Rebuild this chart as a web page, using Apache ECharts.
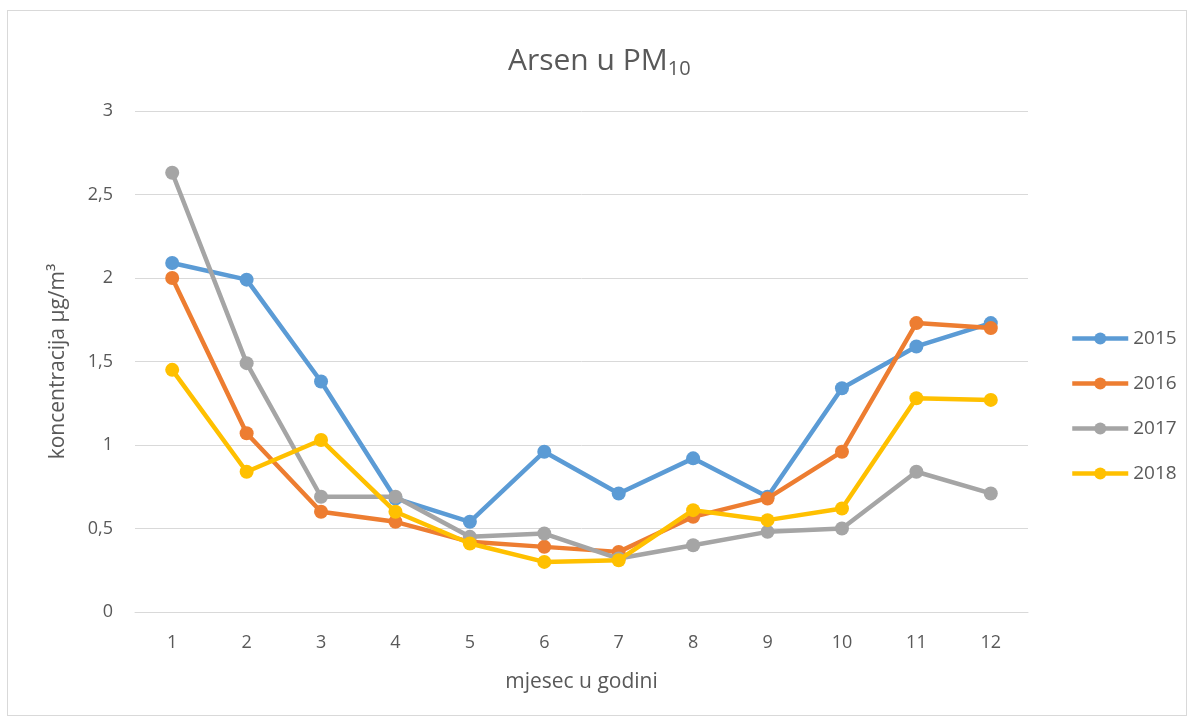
<!DOCTYPE html>
<html>
<head>
<meta charset="utf-8">
<script src="https://cdn.jsdelivr.net/npm/echarts@6/dist/echarts.min.js"></script>
<style>
html, body { margin: 0; padding: 0; background: #fff; }
#main { position: absolute; left: 7px; top: 10px; width: 1180px; height: 706px; border: 1px solid #d9d9d9; box-sizing: border-box; }
</style>
</head>
<body>
<div id="main"></div>
<script>
var months = ['1', '2', '3', '4', '5', '6', '7', '8', '9', '10', '11', '12'];
var yearNames = ['2015', '2016', '2017', '2018'];
var data2015 = [2.09, 1.99, 1.38, 0.68, 0.54, 0.96, 0.71, 0.92, 0.69, 1.34, 1.59, 1.73];
var data2016 = [2.00, 1.07, 0.60, 0.54, 0.42, 0.39, 0.36, 0.57, 0.68, 0.96, 1.73, 1.70];
var data2017 = [2.63, 1.49, 0.69, 0.69, 0.45, 0.47, 0.32, 0.40, 0.48, 0.50, 0.84, 0.71];
var data2018 = [1.45, 0.84, 1.03, 0.60, 0.41, 0.30, 0.31, 0.61, 0.55, 0.62, 1.28, 1.27];
var colors = ['#5B9BD5', '#ED7D31', '#A5A5A5', '#FFC000'];

var dom = document.getElementById('main');
var myChart = echarts.init(dom);
var font = '"Open Sans", "Liberation Sans", sans-serif';
var allData = [data2015, data2016, data2017, data2018];

var series = [];
for (var i = 0; i < yearNames.length; i++) {
    series.push({
        name: yearNames[i],
        type: 'line',
        data: allData[i],
        symbol: 'circle',
        symbolSize: 14,
        color: colors[i],
        lineStyle: { width: 4.5, color: colors[i] },
        itemStyle: { color: colors[i] },
        z: 2 + i
    });
}

var option = {
    animation: false,
    textStyle: { fontFamily: font },
    title: {
        text: '{a|Arsen u PM}{b|10}',
        left: 495,
        top: 27,
        textStyle: {
            fontWeight: 'normal',
            rich: {
                a: { fontSize: 30, color: '#595959', fontFamily: font, fontWeight: 'normal' },
                b: { fontSize: 20, color: '#595959', fontFamily: font, fontWeight: 'normal', padding: [16, 0, 0, 0] }
            }
        }
    },
    legend: {
        orient: 'vertical',
        left: 1057,
        top: 313,
        itemGap: 26,
        itemWidth: 56,
        itemHeight: 15,
        data: yearNames,
        lineStyle: { width: 4.5 },
        textStyle: { fontSize: 19, color: '#595959', fontFamily: font }
    },
    grid: {
        left: 127,
        right: 158,
        top: 100,
        bottom: 103
    },
    xAxis: {
        type: 'category',
        data: months,
        boundaryGap: true,
        name: 'mjesec u godini',
        nameLocation: 'middle',
        nameGap: 60,
        nameTextStyle: { fontSize: 21, color: '#595959' },
        axisLine: { show: true, lineStyle: { color: '#d9d9d9', width: 1 } },
        axisTick: { show: false },
        axisLabel: { fontSize: 18, color: '#595959', margin: 22 }
    },
    yAxis: {
        type: 'value',
        min: 0,
        max: 3,
        interval: 0.5,
        name: 'koncentracija µg/m³',
        nameLocation: 'middle',
        nameGap: 66,
        nameTextStyle: { fontSize: 21, color: '#595959' },
        axisLine: { show: false },
        axisTick: { show: false },
        splitLine: { lineStyle: { color: '#d9d9d9', width: 1 } },
        axisLabel: {
            fontSize: 18,
            color: '#595959',
            margin: 22,
            formatter: function (v) { return String(v).replace('.', ','); }
        }
    },
    series: series
};

myChart.setOption(option, true);
</script>
</body>
</html>
